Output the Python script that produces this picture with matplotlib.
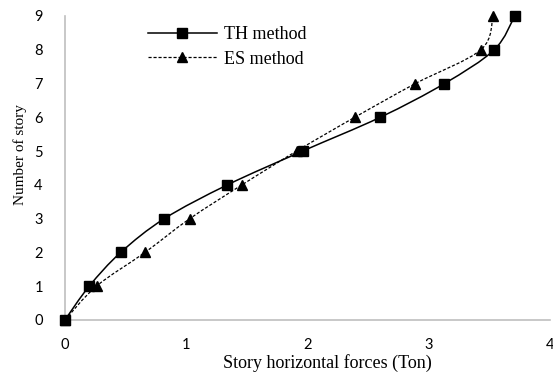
import matplotlib.pyplot as plt
from matplotlib.path import Path
from matplotlib.patches import PathPatch
from matplotlib.lines import Line2D
import numpy as np

stories  = [0, 1, 2, 3, 4, 5, 6, 7, 8, 9]
thForces = [0, 0.20, 0.46, 0.82, 1.34, 1.96, 2.60, 3.13, 3.54, 3.71]
esForces = [0, 0.26, 0.66, 1.03, 1.46, 1.91, 2.39, 2.89, 3.43, 3.53]


def smoothPath(x, y, t=1/6):
    # Excel-style smoothed line: cubic bezier segments through the points
    pts   = np.column_stack([x, y]).astype(float)
    verts = [pts[0]]
    codes = [Path.MOVETO]
    n     = len(pts)
    for i in range(n - 1):
        p0 = pts[i - 1] if i > 0 else pts[i]
        p1 = pts[i]
        p2 = pts[i + 1]
        p3 = pts[i + 2] if i + 2 < n else pts[i + 1]
        c1 = p1 + (p2 - p0) * t
        c2 = p2 - (p3 - p1) * t
        verts += [c1, c2, p2]
        codes += [Path.CURVE4] * 3
    return Path(verts, codes)


fig = plt.figure(figsize=(5.53, 3.72), dpi=100)
ax  = fig.add_axes([0.1175, 0.14, 0.877, 0.817])

tickFont = "Lato"
serif    = "Liberation Serif"
dashes   = (0, (2.5, 1.5))

ax.add_patch(PathPatch(smoothPath(thForces, stories), fill=False, edgecolor="black", lw=1.1))
ax.add_patch(PathPatch(smoothPath(esForces, stories), fill=False, edgecolor="black", lw=0.9, linestyle=dashes))
ax.plot(thForces, stories, linestyle="none", marker="s", markersize=6.5, color="black", clip_on=False, zorder=3)
ax.plot(esForces, stories, linestyle="none", marker="^", markersize=6.5, color="black", clip_on=False, zorder=3)

ax.set_xlim(0, 4)
ax.set_ylim(0, 9)
ax.set_xticks([0, 1, 2, 3, 4])
ax.set_yticks(range(10))
for s in ["top", "right"]:
    ax.spines[s].set_visible(False)
for s in ["left", "bottom"]:
    ax.spines[s].set_color("#BFBFBF")
    ax.spines[s].set_linewidth(1.2)
ax.tick_params(length=0, labelsize=10.5, pad=13)
ax.tick_params(axis="y", pad=16)
for lbl in ax.get_xticklabels() + ax.get_yticklabels():
    lbl.set_fontfamily(tickFont)

ax.set_xlabel("Story horizontal forces (Ton)", fontfamily=serif, fontsize=13)
ax.set_ylabel("Number of story", fontfamily=serif, fontsize=11)
ax.xaxis.set_label_coords(0.542, -0.113)
ax.yaxis.set_label_coords(-0.078, 0.543)

handles = [
    Line2D([], [], color="black", lw=1.1, marker="s", markersize=6.5),
    Line2D([], [], color="black", lw=0.9, linestyle=dashes, marker="^", markersize=6.5),
]
fig.legend(handles, ["TH method", "ES method"], loc="upper left",
           bbox_to_anchor=(148 / 553, 1 - 26 / 372), borderaxespad=0, borderpad=0,
           frameon=False, handlelength=3.8, handletextpad=0.4, labelspacing=0.43,
           prop={"family": serif, "size": 13})

fig.savefig("out.png", dpi=100)
